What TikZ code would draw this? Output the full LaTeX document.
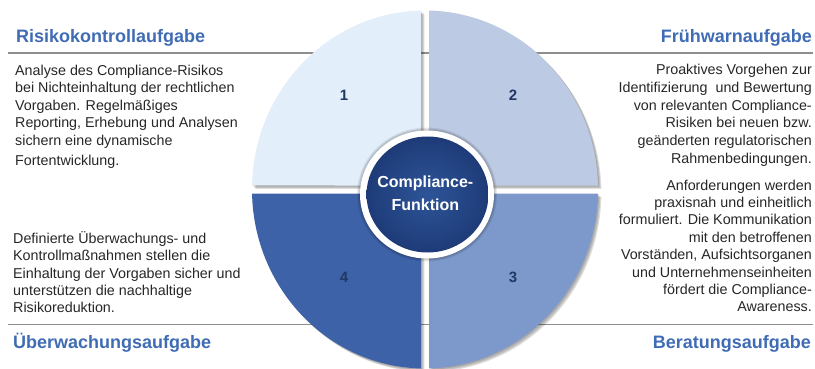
\documentclass[tikz,border=0pt]{standalone}
\usepackage{fontspec}
\setmainfont{Liberation Sans}
\definecolor{qone}{HTML}{E2EEF9}
\definecolor{qtwo}{HTML}{BCCAE4}
\definecolor{qthree}{HTML}{7D98CA}
\definecolor{qfour}{HTML}{3E62A8}
\definecolor{navy}{HTML}{1F3864}
\definecolor{headblue}{HTML}{3F6CB4}
\definecolor{bodygray}{HTML}{262626}
\definecolor{centerin}{HTML}{2E5598}
\definecolor{centerout}{HTML}{1E3B78}
\definecolor{sepgray}{HTML}{8E8E8E}
\def\QA{(421,185.5) -- (421,10.55) arc[start angle=268.675, end angle=181.28, x radius=173, y radius=179] -- cycle}
\def\QB{(429,185.5) -- (597.96,185.5) arc[start angle=358.72, end angle=271.325, x radius=173, y radius=179] -- cycle}
\def\QC{(429,193.5) -- (429,368.45) arc[start angle=88.675, end angle=1.28, x radius=173, y radius=179] -- cycle}
\def\QD{(421,193.5) -- (252.04,193.5) arc[start angle=178.72, end angle=91.325, x radius=173, y radius=179] -- cycle}
\begin{document}
\begin{tikzpicture}[x=1pt,y=-1pt,
  heading/.style={inner sep=0pt, font=\fontsize{18}{22}\selectfont\bfseries, text=headblue},
  bodytext/.style={inner sep=0pt, font=\fontsize{14.3}{17.4}\selectfont, text=bodygray},
  numlabel/.style={inner sep=0pt, font=\fontsize{15}{18}\selectfont\bfseries, text=navy},
  sepline/.style={draw=sepgray, line width=1.3pt},
  qshadow/.style={fill=black, opacity=0.13}]
\useasboundingbox (0,0) rectangle (815,369);
% separator lines
\coordinate (tl1) at (8,53);   \coordinate (tl2) at (425,53);
\coordinate (tr1) at (425,53); \coordinate (tr2) at (813,53);
\coordinate (bl1) at (8,324.5);   \coordinate (bl2) at (425,324.5);
\coordinate (br1) at (425,324.5); \coordinate (br2) at (813,324.5);
\draw[sepline] (tl1) -- (tl2);
\draw[sepline] (tr1) -- (tr2);
\draw[sepline] (bl1) -- (bl2);
\draw[sepline] (br1) -- (br2);
% quadrant shadows
\foreach \s in {1.2,2.4,3.4}{
  \fill[qshadow, shift={(\s,\s)}] \QA;
  \fill[qshadow, shift={(\s,\s)}] \QB;
  \fill[qshadow, shift={(\s,\s)}] \QC;
  \fill[qshadow, shift={(\s,\s)}] \QD;
}
% quadrants
\fill[qone] \QA;
\fill[qtwo] \QB;
\fill[qthree] \QC;
\fill[qfour] \QD;
% center circle
\foreach \s in {1,2,3}{
  \fill[black, opacity=0.08] (427,194.5) ellipse [x radius=67+\s, y radius=64+\s];
}
\fill[white] (427,194.5) ellipse [x radius=67, y radius=64];
\shade[inner color=centerin, outer color=centerout] (427.5,194.5) ellipse [x radius=61, y radius=58];
\node[inner sep=0pt, anchor=north, align=center, text=white,
      font=\fontsize{16}{22.7}\selectfont\bfseries] (cf) at (425.3,171.4) {\strut Compliance-\\Funktion};
% numbers
\node[numlabel, anchor=base] (n1) at (344,100) {1};
\node[numlabel, anchor=base] (n2) at (513,100) {2};
\node[numlabel, anchor=base] (n3) at (513,282) {3};
\node[numlabel, anchor=base] (n4) at (344,282) {4};
% headings
\node[heading, anchor=base west] (h1) at (16,42.5) {Risikokontrollaufgabe};
\node[heading, anchor=base east] (h2) at (812,42.5) {Frühwarnaufgabe};
\node[heading, anchor=base west] (h4) at (13,348.5) {Überwachungsaufgabe};
\node[heading, anchor=base east] (h3) at (811,348.5) {Beratungsaufgabe};
% body texts
\node[bodytext, anchor=north west, align=left] (t1) at (15,63.1)
  {\strut Analyse des Compliance-Risikos\\bei Nichteinhaltung der rechtlichen\\Vorgaben. Regelmäßiges\\Reporting, Erhebung und Analysen\\sichern eine dynamische\\[3pt]Fortentwicklung.};
\node[bodytext, anchor=north west, align=left] (t4) at (13,230.9)
  {\strut Definierte Überwachungs- und\\Kontrollmaßnahmen stellen die\\Einhaltung der Vorgaben sicher und\\unterstützen die nachhaltige\\Risikoreduktion.};
\node[bodytext, font=\fontsize{14.3}{17.8}\selectfont, anchor=north east, align=right] (t2) at (812,61.8)
  {\strut Proaktives Vorgehen zur\\Identifizierung\ \ und Bewertung\\von relevanten Compliance-\\Risiken bei neuen bzw.\\geänderten regulatorischen\\Rahmenbedingungen.};
\node[bodytext, anchor=north east, align=right] (t3) at (812,177.8)
  {\strut Anforderungen werden\\praxisnah und einheitlich\\formuliert. Die Kommunikation\\mit den betroffenen\\Vorständen, Aufsichtsorganen\hspace{13pt}\\und Unternehmenseinheiten\\fördert die Compliance-\\Awareness.};
\end{tikzpicture}
\end{document}
